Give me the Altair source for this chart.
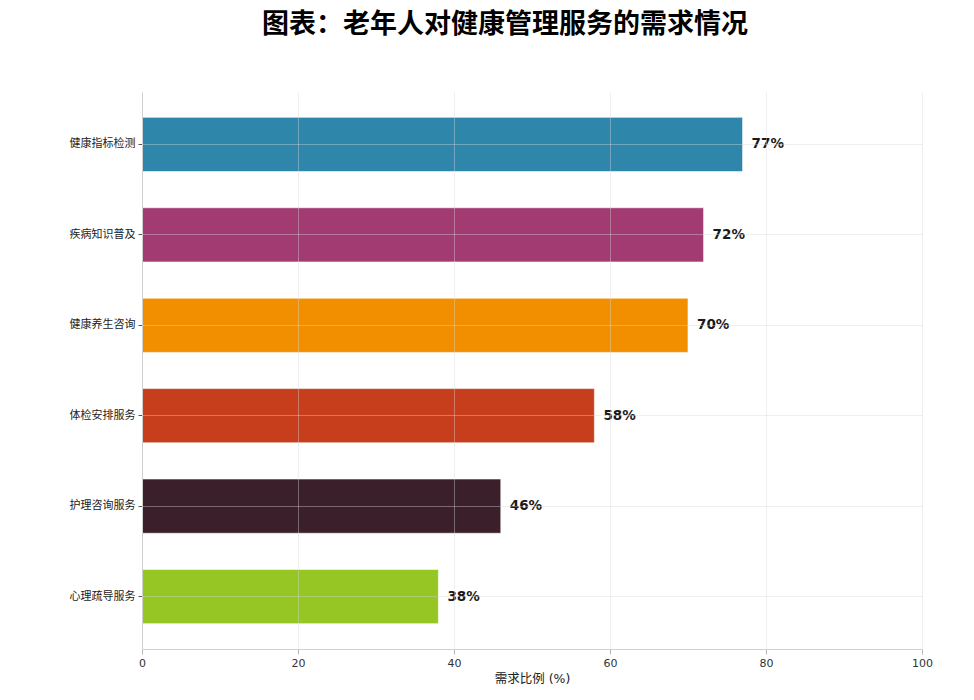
import altair as alt
import pandas as pd

categories = ["健康指标检测", "疾病知识普及", "健康养生咨询", "体检安排服务", "护理咨询服务", "心理疏导服务"]
values = [77, 72, 70, 58, 46, 38]
colors = ["#2E86AB", "#A23B72", "#F18F01", "#C73E1D", "#3B1F2B", "#95C623"]

df = pd.DataFrame({"cat": categories, "val": values})
df["label"] = [f"{v}%" for v in values]

FONT = "DejaVu Sans, Noto Sans CJK SC"

y = alt.Y("cat:N", sort=categories,
          scale=alt.Scale(paddingInner=0.4, paddingOuter=0.28),
          axis=alt.Axis(title=None, labelFontSize=11, labelColor="#222", labelFont="Noto Sans CJK SC",
                        tickColor="#555", tickSize=4, labelPadding=3, domainColor="#d0d0d0",
                        gridColor="#d8d8d8", gridOpacity=0.4, grid=True, zindex=1, minExtent=134))
x = alt.X("val:Q", scale=alt.Scale(domain=[0, 100]),
          axis=alt.Axis(values=[0, 20, 40, 60, 80, 100], title="需求比例 (%)", titleFontSize=12.5,
                        titleFont=FONT, titleFontWeight="normal", titleColor="#222", titlePadding=4,
                        labelFontSize=11, labelColor="#333", labelFont=FONT, labelFlush=False,
                        labelPadding=3, tickColor="#b5b5b5", tickSize=5,
                        domainColor="#d0d0d0", gridColor="#d8d8d8", gridOpacity=0.4, zindex=1))

bars = alt.Chart(df).mark_bar(stroke="white", strokeWidth=1, strokeOpacity=0.6).encode(
    y=y, x=x,
    color=alt.Color("cat:N", scale=alt.Scale(domain=categories, range=colors), legend=None),
)

text = alt.Chart(df).mark_text(align="left", baseline="middle", dx=9, fontSize=13.5,
                               fontWeight="bold", font=FONT, color="#1a1a1a").encode(
    y=alt.Y("cat:N", sort=categories), x="val:Q", text="label:N")

chart = (bars + text).properties(
    width=780, height=557,
    title=alt.TitleParams("图表：老年人对健康管理服务的需求情况", fontSize=27, fontWeight="bold",
                          font="Noto Sans CJK SC", color="#000", anchor="middle", dx=-27, offset=53),
    padding={"left": 0, "top": 3, "right": 5, "bottom": 5},
).configure_view(stroke=None).configure_axis(gridWidth=1)

chart.save("out.html", embed_options={"renderer": "svg", "actions": False})
